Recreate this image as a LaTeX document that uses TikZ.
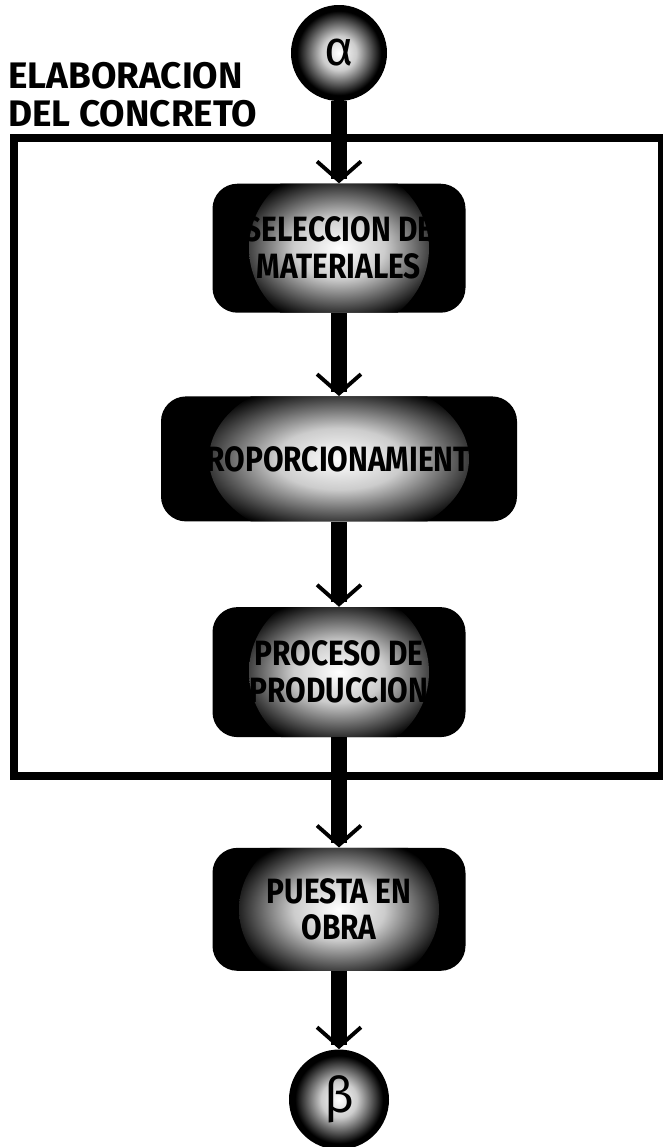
\documentclass[tikz,border=0pt]{standalone}
\usepackage{fontspec}
\setmainfont{Fira Sans}
\newfontfamily\boxfont{Fira Sans}[FakeStretch=0.85]
\usetikzlibrary{positioning,arrows.meta}
\pgfdeclareradialshading{glow}{\pgfpointorigin}{color(0bp)=(white); color(9bp)=(black!20); color(22bp)=(black); color(50bp)=(black)}

\begin{document}
\begin{tikzpicture}[
  stage/.style={fill=black, rounded corners=0.5cm, minimum width=5.06cm, minimum height=2.58cm, align=center, font=\boxfont\bfseries\fontsize{20}{21}\selectfont,
    path picture={\shade[shading=glow] (path picture bounding box.center) ellipse [x radius=#1, y radius=1.7cm];}},
  stage/.default=1.8cm,
  greek/.style={circle, fill=black, minimum size=1.92cm, inner sep=0pt, font=\fontsize{28}{28}\selectfont,
    path picture={\shade[shading=glow] (path picture bounding box.center) circle (0.95cm);}},
  frame/.style={line width=4.5pt},
  flow/.style={line width=9pt, -{Straight Barb[length=11pt, width=25pt, line width'=2.2pt]}},
]
\useasboundingbox (0,0) rectangle (13.26,-22.94);

% title and frame
\node[anchor=north west, align=left, inner sep=0pt, font=\bfseries\fontsize{21}{21.6}\selectfont] (title) at (0.16,-1.24) {ELABORACION\\DEL CONCRETO};
\draw[frame] (0.28,-2.76) rectangle (13.24,-15.52);

% stages
\node[greek] (alpha) at (6.78,-1.06) {α};
\node[stage, below=1.64cm of alpha] (sel) {SELECCION DE\\MATERIALES};
\node[stage=2.6cm, minimum width=7.12cm, minimum height=2.5cm, below=1.66cm of sel] (prop) {PROPORCIONAMIENTO};
\node[stage, minimum height=2.6cm, below=1.7cm of prop] (proc) {PROCESO DE\\PRODUCCION};
\node[stage=2cm, minimum height=2.46cm, below=2.2cm of proc] (obra) {PUESTA EN\\OBRA};
\node[greek, minimum size=2cm, below=1.56cm of obra] (beta) {β};

% flow
\draw[flow] (alpha) -- (sel);
\draw[flow] (sel) -- (prop);
\draw[flow] (prop) -- (proc);
\draw[flow] (proc) -- (obra);
\draw[flow] (obra) -- (beta);
\end{tikzpicture}
\end{document}
